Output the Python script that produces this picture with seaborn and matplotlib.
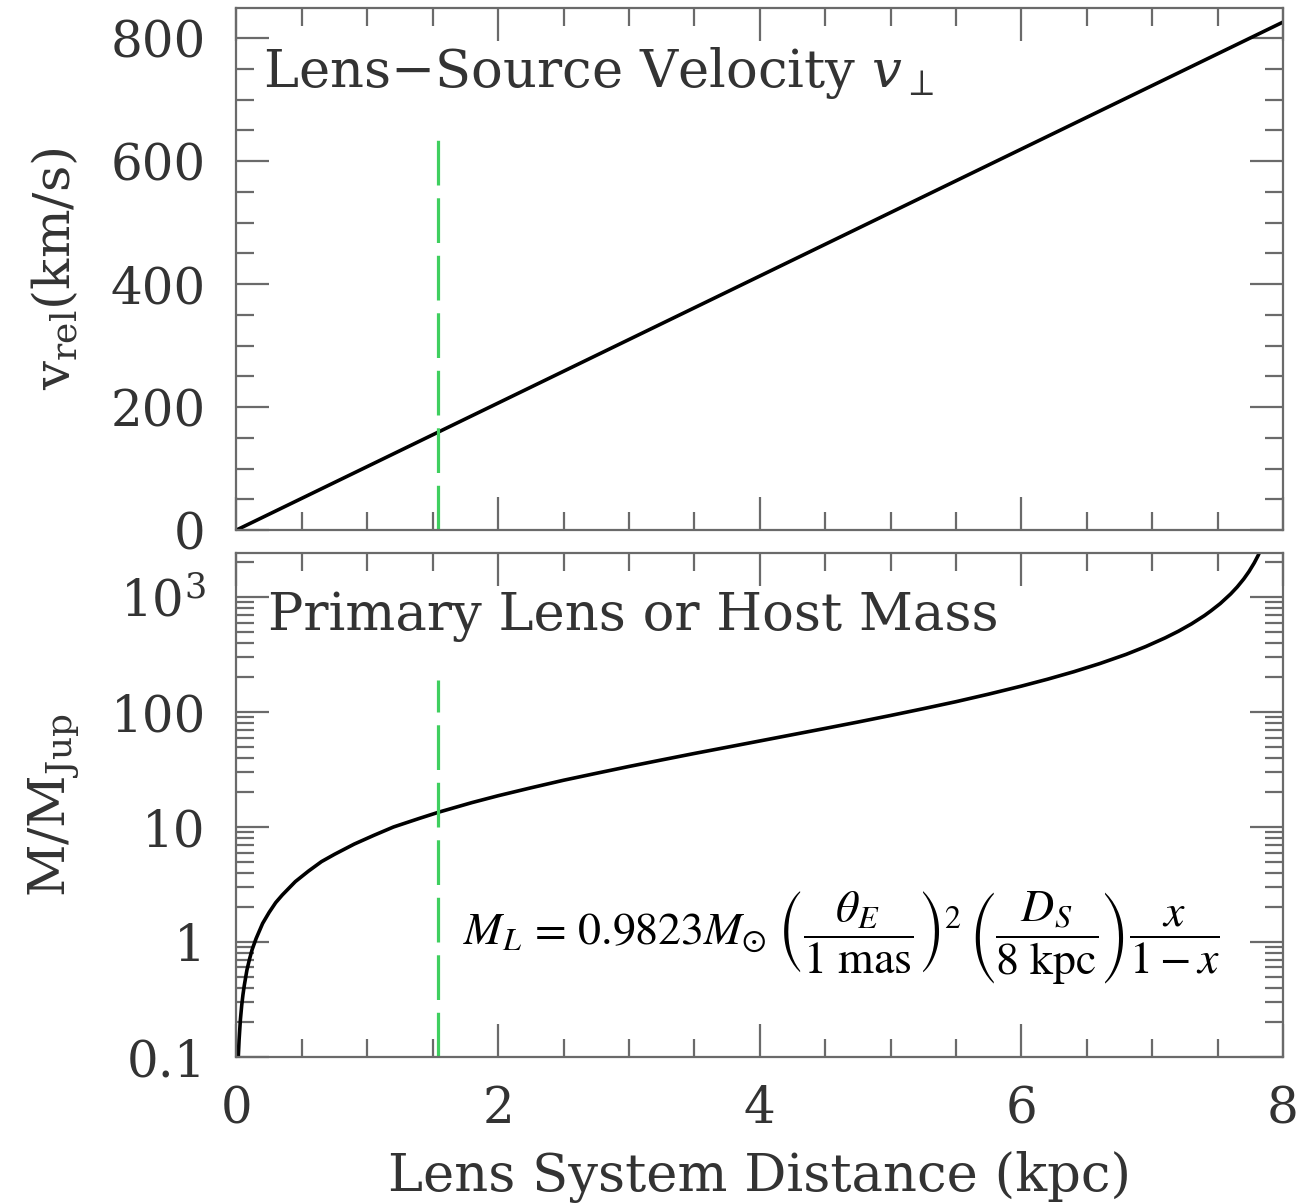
import numpy as np
import pandas as pd
import matplotlib
matplotlib.use("Agg")
import matplotlib.pyplot as plt
from matplotlib.ticker import MultipleLocator, LogLocator, FixedLocator, FixedFormatter, NullFormatter
import seaborn as sns

# ---- data ---------------------------------------------------------------
# relative lens-source velocity (linear in lens distance)
vel_distance = [0.0, 8.0]
vel_kms = [0.0, 826.0]

# primary lens / host mass in Jupiter masses vs lens distance (kpc)
mass_distance = [0.014, 0.02, 0.03, 0.04, 0.05, 0.06, 0.08, 0.10, 0.12, 0.15,
                 0.20, 0.25, 0.30, 0.35, 0.45, 0.55, 0.65, 0.75, 0.90, 1.05,
                 1.20, 1.40, 1.55, 1.80, 2.00, 2.25, 2.50, 2.75, 3.00, 3.25,
                 3.50, 3.75, 4.00, 4.25, 4.50, 4.75, 5.00, 5.25, 5.50, 5.75,
                 6.00, 6.20, 6.40, 6.60, 6.80, 6.95, 7.10, 7.20, 7.30, 7.40,
                 7.45, 7.52, 7.60, 7.65, 7.70, 7.74, 7.78, 7.81, 7.84]
mass_mjup = [0.10, 0.14, 0.21, 0.28, 0.35, 0.42, 0.57, 0.71, 0.86, 1.07,
             1.45, 1.81, 2.20, 2.56, 3.35, 4.13, 5.00, 5.79, 7.10, 8.46,
             10.0, 11.9, 13.5, 16.3, 18.7, 21.9, 25.5, 29.3, 33.6, 38.3,
             43.6, 49.4, 56.0, 63.5, 72.0, 81.8, 93.3, 106.9, 123.0, 143.1,
             168.0, 192.9, 224.0, 264.0, 317.0, 370.7, 442.0, 504.0, 584.0, 690.7,
             760.0, 877.3, 1064.0, 1224.0, 1437.0, 1667.0, 1980.0, 2302.0, 2744.0]

# measured lens distance marker
lens_distance = 1.54
marker_top_vel = 637.0
marker_top_mass = 190.0

vel_ticks = [0, 200, 400, 600, 800]
mass_ticks = [0.1, 1, 10, 100, 1000]
mass_tick_labels = ["0.1", "1", "10", "100", r"$10^3$"]
dist_ticks = [0, 2, 4, 6, 8]

# ---- style --------------------------------------------------------------
sns.set_theme(style="ticks")
plt.rcParams["font.family"] = ["DejaVu Serif"]
plt.rcParams["mathtext.fontset"] = "dejavuserif"

SPINE = "#6a6a6a"
TEXT = "#333333"
GREEN = "#3fcf5f"

fig = plt.figure(figsize=(13.1, 12.03), dpi=100)
left, width = 0.1805, 0.7989
ax_top = fig.add_axes([left, 0.5594, width, 0.4340])
ax_bot = fig.add_axes([left, 0.1214, width, 0.4189])

vel_df = pd.DataFrame({"distance": vel_distance, "velocity": vel_kms})
mass_df = pd.DataFrame({"distance": mass_distance, "mass": mass_mjup})

sns.lineplot(data=vel_df, x="distance", y="velocity", ax=ax_top,
             color="black", linewidth=2.6, estimator=None, sort=True)
sns.lineplot(data=mass_df, x="distance", y="mass", ax=ax_bot,
             color="black", linewidth=2.6, estimator=None, sort=True)

dash = (0, (14, 4))
ax_top.vlines(lens_distance, 0, marker_top_vel, colors=GREEN,
              linewidth=2.3, linestyles=dash)
ax_bot.vlines(lens_distance, 0.1, marker_top_mass, colors=GREEN,
              linewidth=2.3, linestyles=dash)

# ---- axes ---------------------------------------------------------------
ax_top.set_xlim(0, 8)
ax_top.set_ylim(0, 849)
ax_bot.set_xlim(0, 8)
ax_bot.set_yscale("log")
ax_bot.set_ylim(0.1, 2415)

for ax in (ax_top, ax_bot):
    ax.xaxis.set_major_locator(FixedLocator(dist_ticks))
    ax.xaxis.set_minor_locator(MultipleLocator(0.5))
    for sp in ax.spines.values():
        sp.set_visible(True)
        sp.set_color(SPINE)
        sp.set_linewidth(1.6)
    ax.tick_params(which="both", direction="in", top=True, right=True,
                   color=SPINE, width=1.6, labelcolor=TEXT, labelsize=36)
    ax.tick_params(which="major", length=24)
    ax.tick_params(which="minor", length=13)
    ax.tick_params(axis="y", pad=22)
    ax.tick_params(axis="x", pad=20)
    ax.set_xlabel("")
    ax.set_ylabel("")

ax_top.yaxis.set_major_locator(FixedLocator(vel_ticks))
ax_top.yaxis.set_minor_locator(MultipleLocator(50))
ax_top.tick_params(axis="x", labelbottom=False)

ax_bot.yaxis.set_major_locator(FixedLocator(mass_ticks))
ax_bot.yaxis.set_major_formatter(FixedFormatter(mass_tick_labels))
ax_bot.yaxis.set_minor_locator(LogLocator(base=10, subs=np.arange(2, 10)))
ax_bot.yaxis.set_minor_formatter(NullFormatter())

ax_top.set_ylabel(r"v$_{\rm rel}$(km/s)", fontsize=37, color=TEXT)
ax_bot.set_ylabel(r"M/M$_{\rm Jup}$", fontsize=37, color=TEXT)
ax_top.yaxis.set_label_coords(-0.148, 0.5)
ax_bot.yaxis.set_label_coords(-0.148, 0.5)
ax_bot.set_xlabel("Lens System Distance (kpc)", fontsize=38, color=TEXT,
                  labelpad=12)

ax_top.text(0.025, 0.849, "Lens\u2212Source Velocity $v_{\\perp}$",
            transform=ax_top.transAxes, fontsize=38, color=TEXT,
            ha="left", va="baseline")
ax_bot.text(0.03, 0.847, "Primary Lens or Host Mass",
            transform=ax_bot.transAxes, fontsize=38, color=TEXT,
            ha="left", va="baseline")

formula = (r"$M_L\,=\,0.9823M_{\odot}\;\left(\dfrac{\theta_E}{1\ \mathrm{mas}}\right)^2\,"
           r"\left(\dfrac{D_S}{8\ \mathrm{kpc}}\right)\dfrac{x}{1-x}$")
ax_bot.text(0.216, 0.236, formula, transform=ax_bot.transAxes,
            fontsize=33, color="black", ha="left", va="center",
            math_fontfamily="stix")

fig.savefig("out.png", dpi=100)
